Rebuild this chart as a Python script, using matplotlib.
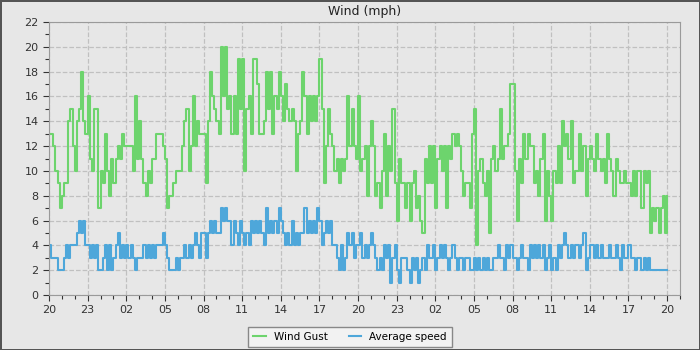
import matplotlib
matplotlib.use('agg')
import matplotlib.pyplot as plt
from matplotlib.ticker import MultipleLocator
import numpy as np

# 10 minute samples, one row per hour, starting 20:00
gust = [
    13, 13, 12, 10, 9, 7,
    8, 9, 9, 14, 15, 12,
    10, 14, 15, 18, 14, 13,
    16, 11, 10, 15, 15, 7,
    10, 9, 13, 10, 8, 11,
    9, 11, 12, 11, 13, 12,
    12, 12, 12, 10, 16, 11,
    14, 11, 9, 8, 10, 9,
    11, 11, 13, 13, 13, 12,
    11, 7, 8, 8, 9, 10,
    10, 10, 12, 14, 15, 10,
    12, 16, 12, 14, 13, 13,
    13, 9, 14, 18, 16, 15,
    14, 13, 20, 16, 20, 15,
    16, 13, 16, 13, 19, 15,
    19, 10, 15, 16, 13, 19,
    19, 17, 13, 13, 14, 18,
    15, 18, 13, 16, 15, 18,
    16, 14, 17, 15, 14, 15,
    14, 10, 13, 14, 18, 16,
    13, 16, 14, 16, 14, 16,
    19, 15, 9, 12, 15, 13,
    12, 10, 11, 9, 11, 10,
    11, 16, 12, 15, 12, 11,
    16, 10, 11, 12, 8, 12,
    14, 12, 8, 9, 7, 10,
    13, 8, 12, 10, 15, 9,
    6, 11, 9, 9, 7, 9,
    6, 9, 10, 7, 8, 6,
    5, 11, 9, 12, 9, 12,
    7, 11, 12, 10, 12, 7,
    12, 11, 13, 12, 13, 12,
    10, 8, 9, 9, 7, 13,
    15, 4, 10, 11, 9, 8,
    10, 5, 11, 12, 10, 11,
    15, 11, 12, 12, 13, 17,
    17, 10, 6, 11, 9, 13,
    11, 13, 12, 12, 9, 10,
    8, 11, 13, 6, 10, 8,
    6, 10, 9, 12, 9, 14,
    12, 13, 11, 14, 9, 10,
    10, 13, 10, 12, 8, 11,
    12, 11, 10, 13, 11, 10,
    11, 9, 13, 11, 10, 8,
    11, 10, 9, 9, 10, 9,
    9, 8, 10, 8, 10, 10,
    7, 10, 9, 10, 5, 7,
    6, 7, 5, 7, 8, 5,
    8,
]

avg = [
    4, 3, 3, 3, 2, 2,
    2, 3, 4, 3, 4, 4,
    4, 5, 6, 5, 6, 4,
    4, 3, 4, 3, 4, 2,
    2, 3, 4, 2, 4, 2,
    3, 4, 5, 3, 4, 3,
    4, 3, 4, 3, 2, 3,
    3, 3, 4, 3, 4, 3,
    4, 3, 4, 4, 4, 5,
    4, 3, 2, 2, 2, 3,
    2, 3, 3, 4, 3, 4,
    3, 4, 5, 4, 3, 5,
    5, 3, 5, 6, 5, 6,
    5, 5, 7, 6, 7, 6,
    6, 4, 6, 5, 4, 6,
    5, 4, 5, 4, 6, 5,
    6, 5, 6, 5, 4, 7,
    5, 6, 5, 6, 5, 7,
    6, 5, 4, 5, 4, 6,
    4, 5, 4, 5, 5, 7,
    5, 6, 5, 6, 5, 7,
    6, 4, 5, 6, 5, 6,
    4, 4, 3, 2, 4, 2,
    3, 5, 4, 5, 3, 4,
    4, 5, 3, 4, 3, 4,
    5, 4, 3, 2, 3, 2,
    4, 3, 4, 1, 3, 4,
    2, 1, 3, 3, 3, 2,
    1, 3, 2, 3, 1, 2,
    3, 2, 4, 3, 3, 4,
    2, 3, 4, 3, 4, 3,
    2, 3, 4, 3, 2, 3,
    3, 2, 3, 3, 2, 2,
    3, 2, 3, 2, 3, 2,
    3, 2, 2, 3, 3, 4,
    3, 3, 2, 4, 3, 4,
    3, 3, 2, 3, 4, 3,
    3, 2, 4, 3, 4, 3,
    4, 3, 4, 2, 3, 4,
    2, 3, 2, 4, 3, 4,
    5, 4, 3, 4, 3, 4,
    4, 3, 4, 5, 2, 3,
    4, 4, 3, 4, 3, 4,
    3, 3, 3, 4, 3, 3,
    4, 3, 2, 4, 3, 3,
    4, 3, 3, 2, 3, 3,
    2, 3, 2, 3, 2, 2,
    2, 2, 2, 2, 2, 2,
    2,
]

hour_labels = ['20', '23', '02', '05', '08', '11', '14', '17', '20',
               '23', '02', '05', '08', '11', '14', '17', '20']

bg = '#e7e7e7'
fig = plt.figure(figsize=(7, 3.5), dpi=100, facecolor=bg,
                 edgecolor='#555555', linewidth=2)
ax = fig.add_axes([49/700, 1-295/350, 631/700, 273/350])
ax.set_facecolor(bg)

t = np.arange(len(gust)) / 6.0
ax.step(t, gust, where='post', color='#6dd46d', lw=1.5, label='Wind Gust')
ax.step(t, avg, where='post', color='#4ea7da', lw=1.5, label='Average speed')

ax.set_xlim(0, 49)
ax.set_ylim(0, 22)
ax.set_xticks(np.arange(0, 49, 3))
ax.set_xticklabels(hour_labels)
ax.xaxis.set_minor_locator(MultipleLocator(1))
ax.set_yticks(np.arange(0, 23, 2))
ax.yaxis.set_minor_locator(MultipleLocator(1))
ax.tick_params(labelsize=8, colors='#333333', length=4, width=0.8)
ax.tick_params(which='minor', length=3, width=0.8, colors='#333333')
ax.grid(True, which='major', color='#c0c0c0', linestyle='--', lw=0.9)
for s in ax.spines.values():
    s.set_color('#9a9a9a')

ax.set_title('Wind (mph)', fontsize=9, color='#222222', pad=5)

leg = fig.legend(loc='center', ncol=2,
                 fontsize=7.5, handlelength=1.2, columnspacing=2.0,
                 fancybox=False, framealpha=1, facecolor='#f2f2f2',
                 edgecolor='#888888', borderpad=0.5)
leg.set_bbox_to_anchor((0.5, 1-337/350))

fig.savefig('out.png', dpi=100, facecolor=bg, edgecolor='#555555')
